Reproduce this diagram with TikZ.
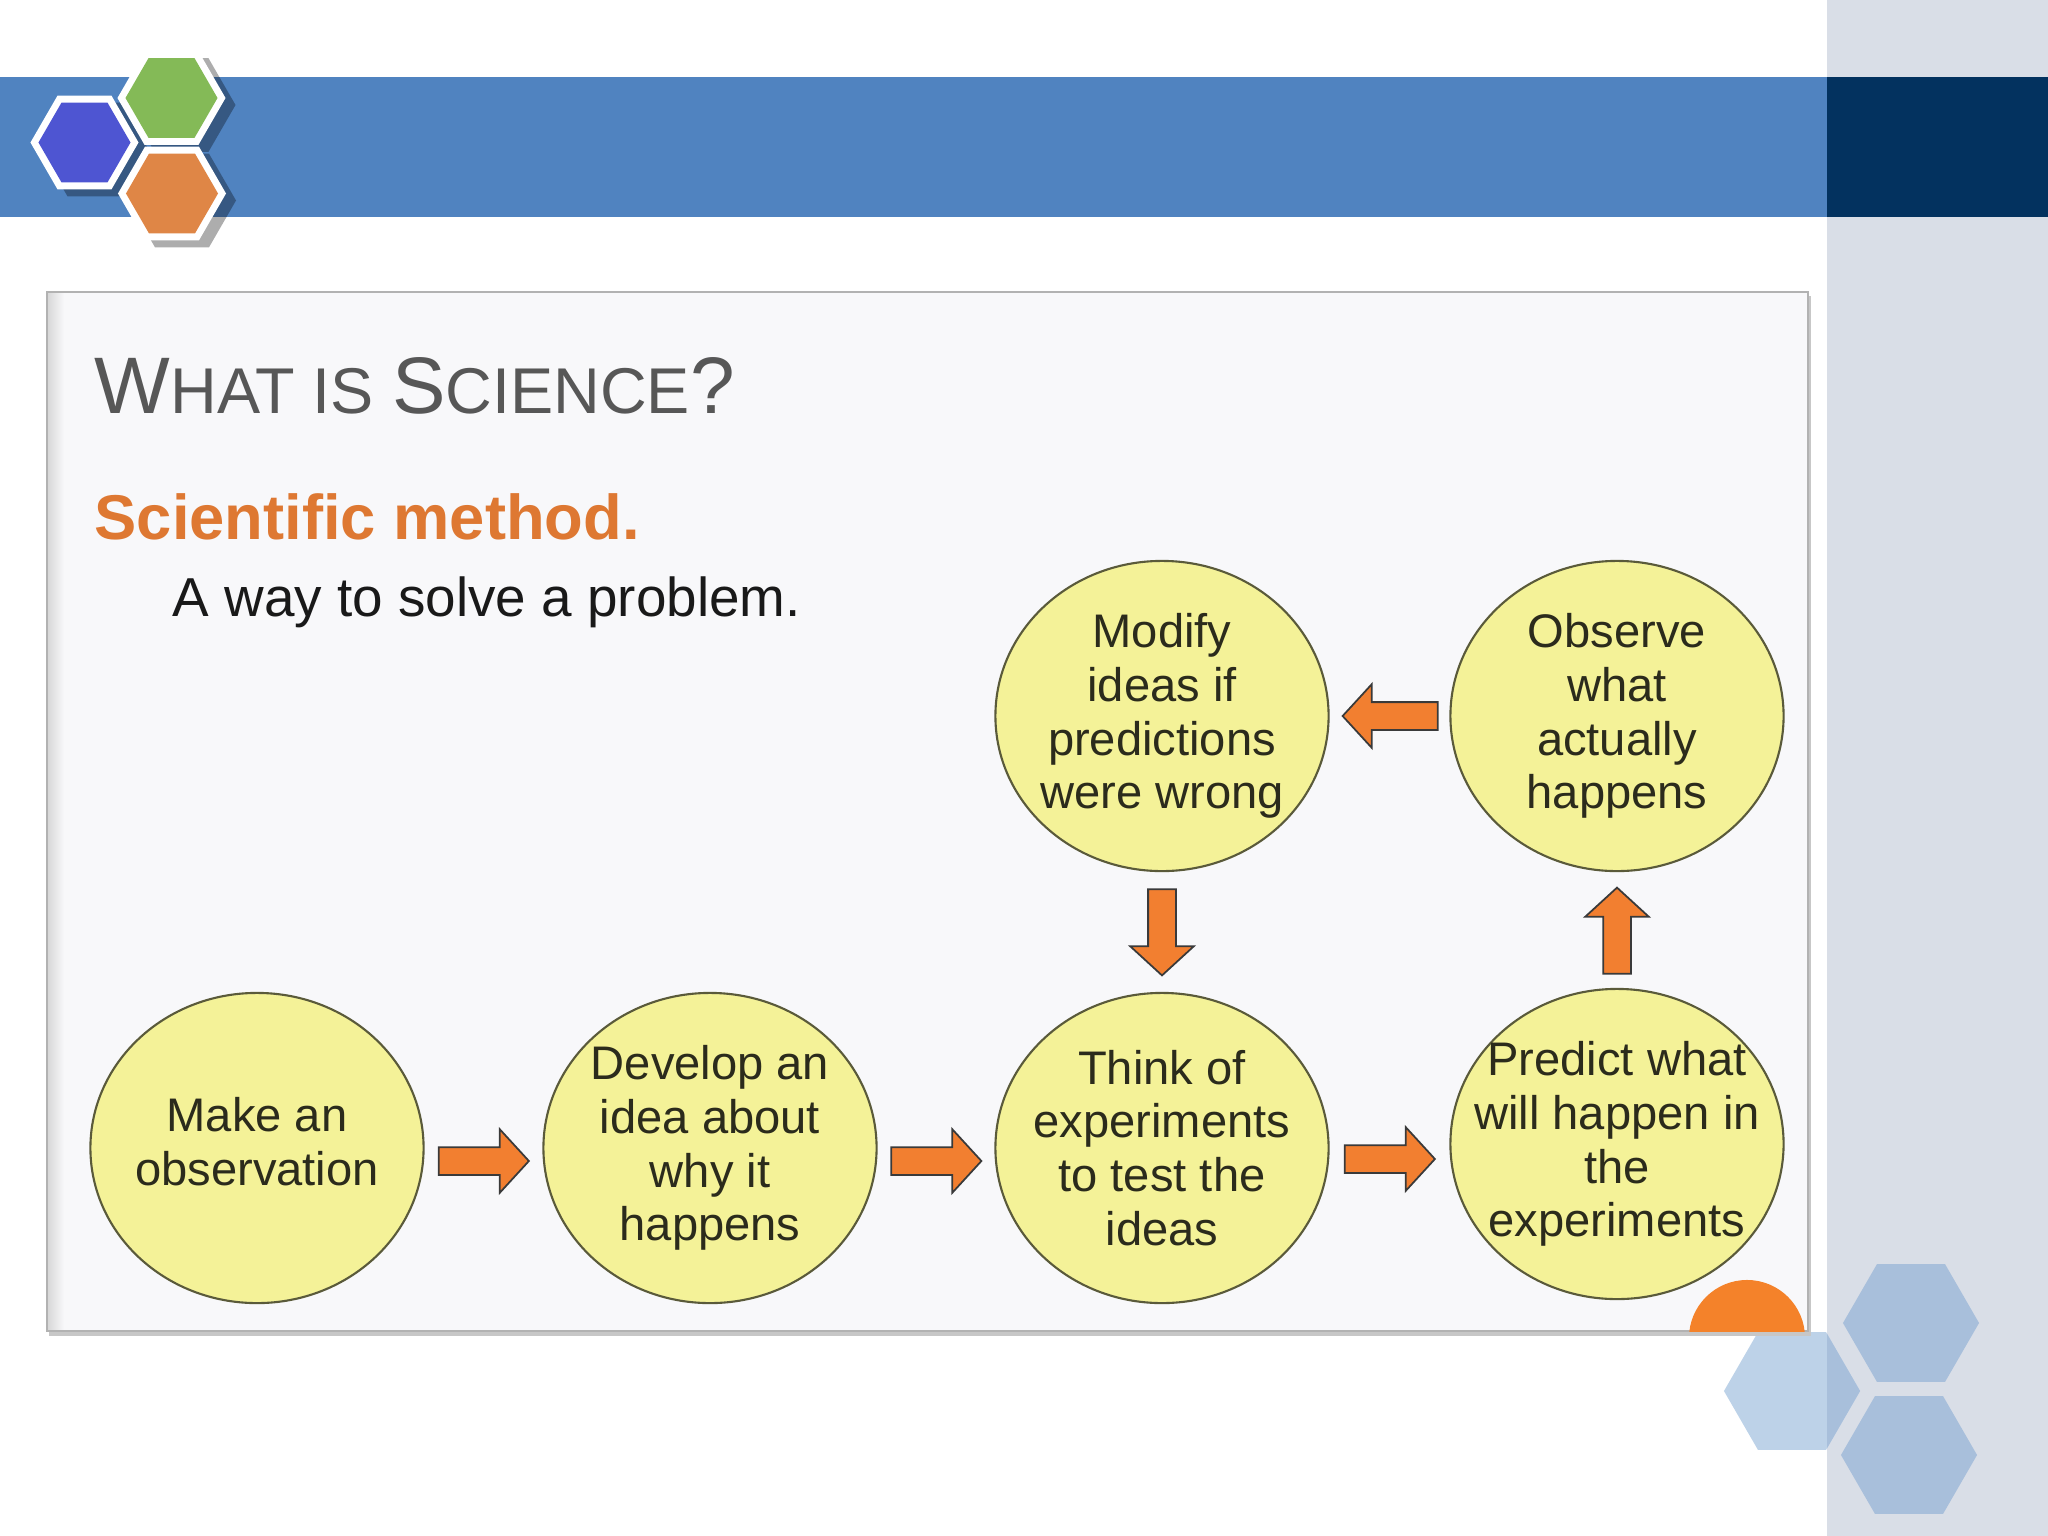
\documentclass[tikz,border=0pt]{standalone}
\usepackage{fontspec}
\setmainfont{Liberation Sans}
\usetikzlibrary{shapes.geometric,shapes.arrows,calc}
\definecolor{sidebar}{HTML}{D9DEE7}
\definecolor{band}{HTML}{5083C0}
\definecolor{navy}{HTML}{03325F}
\definecolor{hexblue}{HTML}{4E55D2}
\definecolor{hexgreen}{HTML}{84BA57}
\definecolor{hexorange}{HTML}{DF8646}
\definecolor{paleblue}{HTML}{A8BFDB}
\definecolor{paleblueL}{HTML}{BDD2E8}
\definecolor{boxbg}{HTML}{F8F8FA}
\definecolor{circfill}{HTML}{F4F298}
\definecolor{circline}{HTML}{5A5A3A}
\definecolor{circtext}{HTML}{2B2B1C}
\definecolor{arrowfill}{HTML}{F27F30}
\definecolor{arrowline}{HTML}{3A3A3A}
\definecolor{titlegrey}{HTML}{575757}
\definecolor{sciorange}{HTML}{DE7832}
\definecolor{dotorange}{HTML}{F4822A}
\tikzset{
  hexa/.style={regular polygon, regular polygon sides=6, inner sep=0pt, draw=none},
  circ/.style={ellipse, draw=circline, line width=0.6pt, fill=circfill,
    minimum width=3.33cm, minimum height=3.10cm, inner sep=0pt},
  ctext/.style={inner sep=0pt, align=center, text=circtext,
    font=\fontsize{13.4}{15.3}\selectfont},
  barrow/.style={single arrow, draw=arrowline, line width=0.5pt, fill=arrowfill,
    inner xsep=0pt, inner ysep=0.13cm, minimum height=0.9cm,
    single arrow head extend=0.18cm, single arrow tip angle=95},
  plain/.style={anchor=base west, inner sep=0pt}
}
\begin{document}
\begin{tikzpicture}[x=0.01cm, y=-0.01cm]
\useasboundingbox (0,0) rectangle (2048,1536);
\fill[white] (0,0) rectangle (2048,1536);
% sidebar and header band
\fill[sidebar] (1827,0) rectangle (2048,1536);
\fill[band] (0,77) rectangle (1827,217);
\fill[navy] (1827,77) rectangle (2048,217);
% logo hexagons
\foreach \cx/\cy/\nm in {84.5/142.5/hb, 171.5/98/hg, 172/193.5/ho}{
  \node[hexa, fill=black, opacity=0.32, minimum size=1.08cm] (sh\nm) at (\cx+10,\cy+7) {};
}
\node[hexa, fill=white, minimum size=1.08cm] (whb) at (84.5,142.5) {};
\node[hexa, fill=hexblue, minimum size=0.92cm] (hb) at (84.5,142.5) {};
\node[hexa, fill=white, minimum size=1.08cm] (whg) at (171.5,98) {};
\node[hexa, fill=hexgreen, minimum size=0.92cm] (hg) at (171.5,98) {};
\node[hexa, fill=white, minimum size=1.08cm] (who) at (172,193.5) {};
\node[hexa, fill=hexorange, minimum size=0.92cm] (ho) at (172,193.5) {};
% bottom right hexagons
\node[hexa, fill=paleblue, minimum size=1.36cm] (bh1) at (1911,1323) {};
\node[hexa, fill=paleblue, minimum size=1.36cm] (bh2) at (1909,1455) {};
\node[hexa, fill=paleblueL, minimum size=1.36cm] (bh3) at (1792,1391) {};
\begin{scope}
  \clip (1827,1300) rectangle (1900,1480);
  \node[hexa, fill=paleblue, minimum size=1.36cm] (bh3b) at (1792,1391) {};
\end{scope}
% content box
\fill[black!22] (49,296) rectangle (1811,1336);
\fill[boxbg] (47,292) rectangle (1808,1331);
\shade[left color=black!16, right color=boxbg] (47,292) rectangle (64,1331);
\draw[black!30, line width=0.4pt] (47,292) rectangle (1808,1331);
\begin{scope}
  \clip (47,292) rectangle (1808,1331);
  \fill[dotorange] (1747,1338) circle[radius=0.58cm];
\end{scope}
% texts
\node[plain, text=titlegrey] (title) at (94,413)
  {\fontsize{22.8}{24}\selectfont W\fontsize{18.4}{24}\selectfont HAT IS \fontsize{22.8}{24}\selectfont S\fontsize{18.4}{24}\selectfont CIENCE\fontsize{22.8}{24}\selectfont ?};
\node[plain, text=sciorange, font=\bfseries\fontsize{18}{20}\selectfont] (sci) at (94,539) {Scientific method.};
\node[plain, text=black!90, font=\fontsize{15.6}{18}\selectfont] (way) at (172,616) {A way to solve a problem.};
% circles
\node[circ] (c1) at (257,1148) {};
\node[circ] (c2) at (710,1148) {};
\node[circ] (c3) at (1162,1148) {};
\node[circ] (c4) at (1617,1144) {};
\node[circ] (c5) at (1162,716) {};
\node[circ] (c6) at (1617,716) {};
\node[ctext] (t1) at ($(c1.center)+(0,-6)$) {Make an\\observation};
\node[ctext] (t2) at (c2.center) {Develop an\\idea about\\why it\\happens};
\node[ctext] (t3) at (c3.center) {Think of\\experiments\\to test the\\ideas};
\node[ctext] (t4) at (c4.center) {Predict what\\will happen in\\the\\experiments};
\node[ctext] (t5) at (c5.center) {Modify\\ideas if\\predictions\\were wrong};
\node[ctext] (t6) at (c6.center) {Observe\\what\\actually\\happens};
% block arrows
\node[barrow] (a12) at ($(c1.east)!0.5!(c2.west)+(-6,13)$) {};
\node[barrow] (a23) at ($(c2.east)!0.5!(c3.west)+(-6,13)$) {};
\node[barrow] (a34) at ($(c3.east)!0.5!(c4.west)+(-6,13)$) {};
\node[barrow, rotate=90, minimum height=0.86cm] (a46) at ($(c4.north)!0.5!(c6.south)+(0,7)$) {};
\node[barrow, rotate=180, minimum height=0.95cm] (a65) at ($(c6.west)!0.5!(c5.east)+(7,0)$) {};
\node[barrow, rotate=-90, minimum height=0.86cm] (a53) at ($(c5.south)!0.5!(c3.north)+(0,-6)$) {};
\end{tikzpicture}
\end{document}
